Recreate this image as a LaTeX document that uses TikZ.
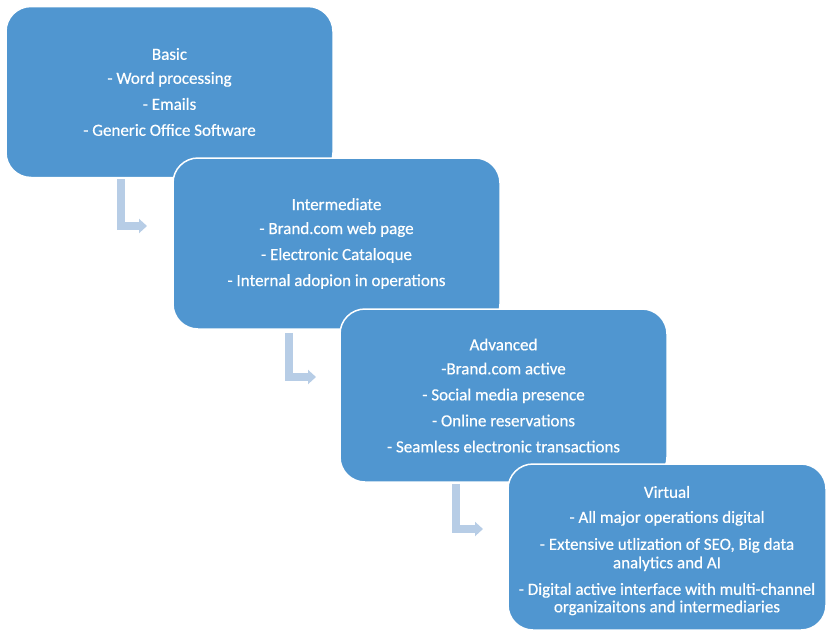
\documentclass[tikz,border=0pt]{standalone}
\usepackage{fontspec}
\setmainfont{Carlito}
\newfontfamily\boxfont{Carlito}[FakeBold=0.5]
\usetikzlibrary{arrows.meta}
\definecolor{boxblue}{RGB}{80,150,208}
\definecolor{arrowblue}{RGB}{183,205,230}

\begin{document}
\begin{tikzpicture}[x=1pt,y=-1pt,
	stagebox/.style={draw=white,line width=1.5pt,fill=boxblue,rounded corners=25pt,
		text=white,align=center,font=\boxfont\fontsize{17}{18.5}\selectfont,inner sep=0pt},
	bentarrow/.style={draw=arrowblue,line width=8pt,-{Triangle[width=14pt,length=8pt]}}]

\useasboundingbox (0,0) rectangle (827,632);

\node[stagebox,minimum width=327pt,minimum height=171pt] (basic) at (169.5,92)
	{Basic\\[5.5pt]- Word processing\\[7.5pt]- Emails\\[7.5pt]- Generic Office Software};
\node[stagebox,minimum width=327pt,minimum height=171pt] (inter) at (336.5,243.5)
	{Intermediate\\[5.5pt]- Brand.com web page\\[7.5pt]- Electronic Cataloque\\[7.5pt]- Internal adopion in operations};
\node[stagebox,minimum width=327pt,minimum height=173pt] (adv) at (503.5,395.5)
	{Advanced\\[5.5pt]-Brand.com active\\[7.5pt]- Social media presence\\[7.5pt]- Online reservations\\[7.5pt]- Seamless electronic transactions};
\node[stagebox,minimum width=318pt,minimum height=166pt] (virt) at (667,547)
	{\rule{0pt}{19pt}Virtual\\[6.5pt]- All major operations digital\\[8.5pt]- Extensive utlization of SEO, Big data\\analytics and AI\\[8pt]- Digital active interface with multi-channel\\[-1pt]organizaitons and intermediaries};

\coordinate (t1) at (147,226);
\coordinate (t2) at (316,377);
\coordinate (t3) at (483,529);

\draw[bentarrow] ([xshift=116pt,yshift=-1pt]basic.south west) |- (t1);
\draw[bentarrow] ([xshift=117pt,yshift=-3pt]inter.south west) |- (t2);
\draw[bentarrow] ([xshift=117pt,yshift=-1pt]adv.south west) |- (t3);

\end{tikzpicture}
\end{document}
